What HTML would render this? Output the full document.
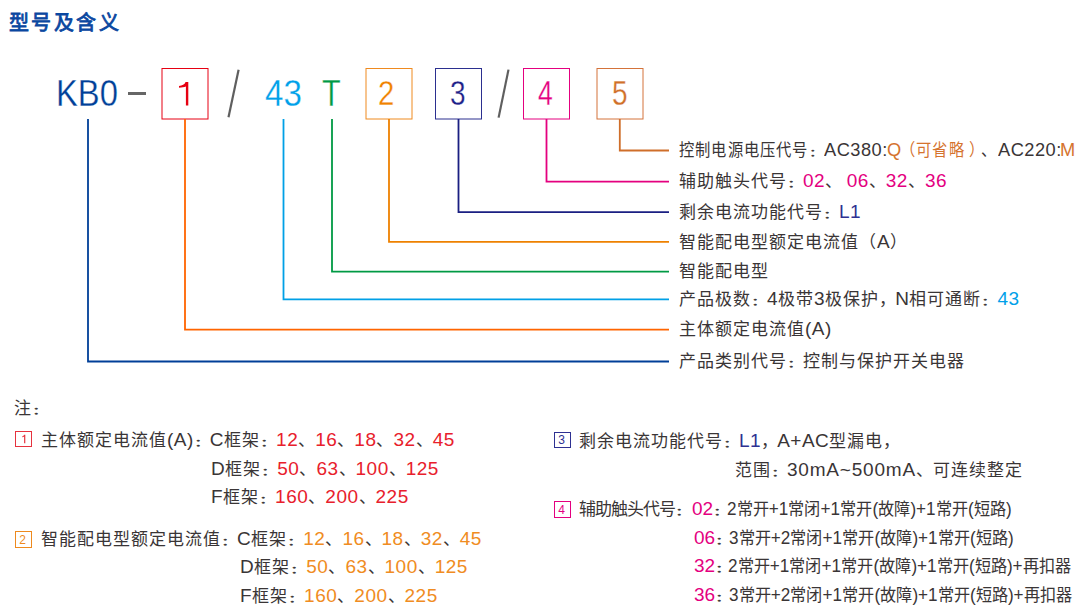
<!DOCTYPE html>
<html lang="zh-CN"><head><meta charset="utf-8"><title>型号及含义</title>
<style>
html,body{margin:0;padding:0;background:#fff;}
body{width:1083px;height:610px;position:relative;overflow:hidden;font-family:"Liberation Sans",sans-serif;color:#3a3536;}
.a{position:absolute;white-space:nowrap;line-height:1;transform-origin:0 0;}
.t{line-height:40px;font-size:16px;}
.t span{line-height:0;}
.r{position:absolute;}
.big{-webkit-text-stroke:0.3px #fff;paint-order:fill stroke;}
.b{position:absolute;box-sizing:border-box;}
.s{position:absolute;}
</style></head><body>
<div class="a" style="left:9px;top:13px;font-size:20px;letter-spacing:2.4px;color:#0a47a0;-webkit-text-stroke:0.8px #0a47a0">型号及含义</div>
<div class="a big" style="left:55.5px;top:76px;font-size:36px;color:#003f98;transform:scaleX(0.91)">KB0</div>
<div class="r" style="left:128px;top:92px;width:18px;height:3px;background:#666666"></div>
<svg class="s" style="left:0;top:0" width="1083" height="130"><g fill="none" stroke-width="1"><rect x="162" y="68.5" width="46" height="50.5" stroke="#e60012"/><rect x="366" y="68.5" width="46" height="50.5" stroke="#ef8a1f"/><rect x="435.5" y="68.5" width="46.0" height="50.5" stroke="#2b2f8f"/><rect x="523.5" y="68.5" width="46.0" height="50.5" stroke="#e4007f"/><rect x="597" y="68.5" width="46" height="50.5" stroke="#d4733a"/></g></svg>
<svg class="s" style="left:0;top:0" width="1083" height="130">
<line x1="238.6" y1="69.7" x2="228.5" y2="117.3" stroke="#5f5f5f" stroke-width="2.2"/>
<line x1="508.5" y1="69.6" x2="498.6" y2="117.6" stroke="#5f5f5f" stroke-width="2.2"/>
<path d="M185.6 82 L188.3 82 L188.3 105.4 L185.9 105.4 L185.9 86.6 C184.2 87.4 181.8 87.7 179 87.7 L179 85.9 C182.2 85.8 184.6 84.5 185.6 82 Z" fill="#e60012"/>
</svg>
<div class="a big" style="left:265px;top:76px;font-size:36px;color:#00a0e9;transform:scaleX(0.92)">43</div>
<div class="a big" style="left:321.5px;top:76px;font-size:36px;color:#009944;transform:scaleX(0.85)">T</div>
<div class="a big" style="left:378px;top:75px;font-size:35px;color:#f08200;transform:scaleX(0.84)">2</div>
<div class="a big" style="left:450px;top:75px;font-size:35px;color:#1d2088;transform:scaleX(0.8)">3</div>
<div class="a big" style="left:538px;top:75px;font-size:35px;color:#e4007f;transform:scaleX(0.76)">4</div>
<div class="a big" style="left:611.5px;top:75px;font-size:35px;color:#d0702a;transform:scaleX(0.8)">5</div>
<svg class="s" style="left:0;top:0" width="1083" height="400"><g fill="none" stroke-width="1.8" stroke-linejoin="miter"><path d="M88 119 V361.5 H669" stroke="#003f98"/><path d="M185 119 V329.6 H669" stroke="#ff6400"/><path d="M283.5 119 V299.46 H669" stroke="#00a0e6"/><path d="M332 119 V271.6 H669" stroke="#009a44"/><path d="M389 119 V241.93 H669" stroke="#ee8100"/><path d="M458.5 119 V212.07 H669" stroke="#1a1f82"/><path d="M546.5 119 V181.6 H669" stroke="#e4007f"/><path d="M619.8 119 V150.5 H669" stroke="#cf6e2a"/></g></svg>
<div class="a t" style="left:679px;top:162px;"><span style="font-size:17px;letter-spacing:1.0px;color:#3a3536;">辅助触头代号</span><span style="font-size:17px;letter-spacing:-1.0px;color:#3a3536;display:inline-block;transform:scaleY(0.55);transform-origin:50% 5.90px;-webkit-text-stroke:0.5px #3a3536;">：</span><span style="font-size:19px;letter-spacing:0.5px;color:#e4007f">02</span><span style="font-size:17px;letter-spacing:0.0px;color:#3a3536;margin-right:4.5px">、</span><span style="font-size:19px;letter-spacing:0.5px;color:#e4007f">06</span><span style="font-size:17px;letter-spacing:0.0px;color:#3a3536;">、</span><span style="font-size:19px;letter-spacing:0.5px;color:#e4007f">32</span><span style="font-size:17px;letter-spacing:0.0px;color:#3a3536;">、</span><span style="font-size:19px;letter-spacing:0.5px;color:#e4007f">36</span></div>
<div class="a t" style="left:679px;top:193px;"><span style="font-size:17px;letter-spacing:1.0px;color:#3a3536;">剩余电流功能代号</span><span style="font-size:17px;letter-spacing:-1.0px;color:#3a3536;display:inline-block;transform:scaleY(0.55);transform-origin:50% 5.90px;-webkit-text-stroke:0.5px #3a3536;">：</span><span style="font-size:19px;letter-spacing:0.5px;color:#2e3192">L1</span></div>
<div class="a t" style="left:679px;top:223px;"><span style="font-size:17px;letter-spacing:1.0px;color:#3a3536;">智能配电型额定电流值（</span><span style="font-size:19px;letter-spacing:0.5px;color:#3a3536">A</span><span style="font-size:17px;letter-spacing:1.0px;color:#3a3536;">）</span></div>
<div class="a t" style="left:679px;top:252px;"><span style="font-size:17px;letter-spacing:1.0px;color:#3a3536;">智能配电型</span></div>
<div class="a t" style="left:679px;top:280px;"><span style="font-size:17px;letter-spacing:1.0px;color:#3a3536;">产品极数</span><span style="font-size:17px;letter-spacing:-1.0px;color:#3a3536;display:inline-block;transform:scaleY(0.55);transform-origin:50% 5.90px;-webkit-text-stroke:0.5px #3a3536;">：</span><span style="font-size:19px;letter-spacing:0.5px;color:#3a3536">4</span><span style="font-size:17px;letter-spacing:1.0px;color:#3a3536;">极带</span><span style="font-size:19px;letter-spacing:0.5px;color:#3a3536">3</span><span style="font-size:17px;letter-spacing:1.0px;color:#3a3536;">极保护</span><span style="font-size:17px;letter-spacing:-1.0px;color:#3a3536;">，</span><span style="font-size:19px;letter-spacing:0.5px;color:#3a3536">N</span><span style="font-size:17px;letter-spacing:1.0px;color:#3a3536;">相可通断</span><span style="font-size:17px;letter-spacing:-1.0px;color:#3a3536;display:inline-block;transform:scaleY(0.55);transform-origin:50% 5.90px;-webkit-text-stroke:0.5px #3a3536;">：</span><span style="font-size:19px;letter-spacing:0.5px;color:#00a0e9">43</span></div>
<div class="a t" style="left:679px;top:310px;"><span style="font-size:17px;letter-spacing:1.0px;color:#3a3536;">主体额定电流值</span><span style="font-size:19px;letter-spacing:0.5px;color:#3a3536">(A)</span></div>
<div class="a t" style="left:679px;top:342px;"><span style="font-size:17px;letter-spacing:1.0px;color:#3a3536;">产品类别代号</span><span style="font-size:17px;letter-spacing:-1.0px;color:#3a3536;display:inline-block;transform:scaleY(0.55);transform-origin:50% 5.90px;-webkit-text-stroke:0.5px #3a3536;">：</span><span style="font-size:17px;letter-spacing:1.0px;color:#3a3536;">控制与保护开关电器</span></div>
<div class="a t" style="left:679px;top:131px;transform:scaleX(0.9);"><span style="font-size:17px;letter-spacing:1.0px;color:#3a3536;">控制电源电压代号</span><span style="font-size:17px;letter-spacing:-1.0px;color:#3a3536;display:inline-block;transform:scaleY(0.55);transform-origin:50% 5.90px;-webkit-text-stroke:0.5px #3a3536;">：</span></div>
<div class="a t" style="left:823.5px;top:131px;transform:scaleX(0.96);"><span style="font-size:19px;letter-spacing:0.5px;color:#3a3536">AC380:</span></div>
<div class="a t" style="left:886.5px;top:131px;transform:scaleX(0.96);"><span style="font-size:19px;letter-spacing:0.5px;color:#d5732e">Q</span></div>
<div class="a t" style="left:900px;top:131px;transform:scaleX(0.9);"><span style="font-size:17px;letter-spacing:1.0px;color:#d5732e;">（可省略</span></div>
<div class="a t" style="left:968.8px;top:131px;transform:scaleX(0.9);"><span style="font-size:17px;letter-spacing:1.0px;color:#d5732e;">）</span></div>
<div class="a t" style="left:981px;top:131px;transform:scaleX(0.9);"><span style="font-size:17px;letter-spacing:0.0px;color:#3a3536;">、</span></div>
<div class="a t" style="left:997.5px;top:131px;transform:scaleX(0.96);"><span style="font-size:19px;letter-spacing:0.5px;color:#3a3536">AC220:</span></div>
<div class="a t" style="left:1060px;top:131px;transform:scaleX(0.96);"><span style="font-size:19px;letter-spacing:0.5px;color:#d5732e">M</span></div>
<div class="a t" style="left:14px;top:389px;"><span style="font-size:17px;letter-spacing:1.0px;color:#3a3536;">注</span><span style="font-size:17px;letter-spacing:-1.0px;color:#3a3536;display:inline-block;transform:scaleY(0.55);transform-origin:50% 5.90px;-webkit-text-stroke:0.5px #3a3536;">：</span></div>
<div class="b" style="left:15px;top:431px;width:17px;height:16px;border:1px solid #e6323e"></div>
<svg class="s" style="left:15px;top:431px" width="17" height="16"><path d="M9.2 3.8 L10.3 3.8 L10.3 12.2 L9.1 12.2 L9.1 5.6 C8.6 6.1 7.9 6.3 7.1 6.3 L7.1 5.4 C8.1 5.3 8.9 4.7 9.2 3.8 Z" fill="#e6323e"/></svg>
<div class="a t" style="left:41px;top:421px;"><span style="font-size:17px;letter-spacing:1.0px;color:#3a3536;">主体额定电流值</span><span style="font-size:19px;letter-spacing:0.5px;color:#3a3536">(A)</span><span style="font-size:17px;letter-spacing:-1.0px;color:#3a3536;display:inline-block;transform:scaleY(0.55);transform-origin:50% 5.90px;-webkit-text-stroke:0.5px #3a3536;">：</span><span style="font-size:19px;letter-spacing:0.5px;color:#3a3536">C</span><span style="font-size:17px;letter-spacing:1.0px;color:#3a3536;">框架</span><span style="font-size:17px;letter-spacing:-1.0px;color:#3a3536;display:inline-block;transform:scaleY(0.55);transform-origin:50% 5.90px;-webkit-text-stroke:0.5px #3a3536;">：</span><span style="font-size:19px;letter-spacing:0.5px;color:#e8202c">12</span><span style="font-size:17px;letter-spacing:0.0px;color:#3a3536;">、</span><span style="font-size:19px;letter-spacing:0.5px;color:#e8202c">16</span><span style="font-size:17px;letter-spacing:0.0px;color:#3a3536;">、</span><span style="font-size:19px;letter-spacing:0.5px;color:#e8202c">18</span><span style="font-size:17px;letter-spacing:0.0px;color:#3a3536;">、</span><span style="font-size:19px;letter-spacing:0.5px;color:#e8202c">32</span><span style="font-size:17px;letter-spacing:0.0px;color:#3a3536;">、</span><span style="font-size:19px;letter-spacing:0.5px;color:#e8202c">45</span></div>
<div class="a t" style="left:211px;top:450px;"><span style="font-size:19px;letter-spacing:0.5px;color:#3a3536">D</span><span style="font-size:17px;letter-spacing:1.0px;color:#3a3536;">框架</span><span style="font-size:17px;letter-spacing:-1.0px;color:#3a3536;display:inline-block;transform:scaleY(0.55);transform-origin:50% 5.90px;-webkit-text-stroke:0.5px #3a3536;">：</span><span style="font-size:19px;letter-spacing:0.5px;color:#e8202c">50</span><span style="font-size:17px;letter-spacing:0.0px;color:#3a3536;">、</span><span style="font-size:19px;letter-spacing:0.5px;color:#e8202c">63</span><span style="font-size:17px;letter-spacing:0.0px;color:#3a3536;">、</span><span style="font-size:19px;letter-spacing:0.5px;color:#e8202c">100</span><span style="font-size:17px;letter-spacing:0.0px;color:#3a3536;">、</span><span style="font-size:19px;letter-spacing:0.5px;color:#e8202c">125</span></div>
<div class="a t" style="left:211px;top:478px;"><span style="font-size:19px;letter-spacing:0.5px;color:#3a3536">F</span><span style="font-size:17px;letter-spacing:1.0px;color:#3a3536;">框架</span><span style="font-size:17px;letter-spacing:-1.0px;color:#3a3536;display:inline-block;transform:scaleY(0.55);transform-origin:50% 5.90px;-webkit-text-stroke:0.5px #3a3536;">：</span><span style="font-size:19px;letter-spacing:0.5px;color:#e8202c">160</span><span style="font-size:17px;letter-spacing:0.0px;color:#3a3536;">、</span><span style="font-size:19px;letter-spacing:0.5px;color:#e8202c">200</span><span style="font-size:17px;letter-spacing:0.0px;color:#3a3536;">、</span><span style="font-size:19px;letter-spacing:0.5px;color:#e8202c">225</span></div>
<div class="b" style="left:15px;top:531px;width:17px;height:17px;border:1px solid #ee8a1e"></div>
<div class="a" style="left:14px;top:533.5px;width:17px;text-align:center;font-size:12px;line-height:12px;color:#ee8a1e">2</div>
<div class="a t" style="left:41px;top:520px;"><span style="font-size:17px;letter-spacing:1.0px;color:#3a3536;">智能配电型额定电流值</span><span style="font-size:17px;letter-spacing:-1.0px;color:#3a3536;display:inline-block;transform:scaleY(0.55);transform-origin:50% 5.90px;-webkit-text-stroke:0.5px #3a3536;">：</span><span style="font-size:19px;letter-spacing:0.5px;color:#3a3536">C</span><span style="font-size:17px;letter-spacing:1.0px;color:#3a3536;">框架</span><span style="font-size:17px;letter-spacing:-1.0px;color:#3a3536;display:inline-block;transform:scaleY(0.55);transform-origin:50% 5.90px;-webkit-text-stroke:0.5px #3a3536;">：</span><span style="font-size:19px;letter-spacing:0.5px;color:#f08c22">12</span><span style="font-size:17px;letter-spacing:0.0px;color:#3a3536;">、</span><span style="font-size:19px;letter-spacing:0.5px;color:#f08c22">16</span><span style="font-size:17px;letter-spacing:0.0px;color:#3a3536;">、</span><span style="font-size:19px;letter-spacing:0.5px;color:#f08c22">18</span><span style="font-size:17px;letter-spacing:0.0px;color:#3a3536;">、</span><span style="font-size:19px;letter-spacing:0.5px;color:#f08c22">32</span><span style="font-size:17px;letter-spacing:0.0px;color:#3a3536;">、</span><span style="font-size:19px;letter-spacing:0.5px;color:#f08c22">45</span></div>
<div class="a t" style="left:240px;top:548px;"><span style="font-size:19px;letter-spacing:0.5px;color:#3a3536">D</span><span style="font-size:17px;letter-spacing:1.0px;color:#3a3536;">框架</span><span style="font-size:17px;letter-spacing:-1.0px;color:#3a3536;display:inline-block;transform:scaleY(0.55);transform-origin:50% 5.90px;-webkit-text-stroke:0.5px #3a3536;">：</span><span style="font-size:19px;letter-spacing:0.5px;color:#f08c22">50</span><span style="font-size:17px;letter-spacing:0.0px;color:#3a3536;">、</span><span style="font-size:19px;letter-spacing:0.5px;color:#f08c22">63</span><span style="font-size:17px;letter-spacing:0.0px;color:#3a3536;">、</span><span style="font-size:19px;letter-spacing:0.5px;color:#f08c22">100</span><span style="font-size:17px;letter-spacing:0.0px;color:#3a3536;">、</span><span style="font-size:19px;letter-spacing:0.5px;color:#f08c22">125</span></div>
<div class="a t" style="left:240px;top:577px;"><span style="font-size:19px;letter-spacing:0.5px;color:#3a3536">F</span><span style="font-size:17px;letter-spacing:1.0px;color:#3a3536;">框架</span><span style="font-size:17px;letter-spacing:-1.0px;color:#3a3536;display:inline-block;transform:scaleY(0.55);transform-origin:50% 5.90px;-webkit-text-stroke:0.5px #3a3536;">：</span><span style="font-size:19px;letter-spacing:0.5px;color:#f08c22">160</span><span style="font-size:17px;letter-spacing:0.0px;color:#3a3536;">、</span><span style="font-size:19px;letter-spacing:0.5px;color:#f08c22">200</span><span style="font-size:17px;letter-spacing:0.0px;color:#3a3536;">、</span><span style="font-size:19px;letter-spacing:0.5px;color:#f08c22">225</span></div>
<div class="b" style="left:554px;top:432px;width:17px;height:16px;border:1px solid #2e3192"></div>
<div class="a" style="left:553px;top:434.0px;width:17px;text-align:center;font-size:12px;line-height:12px;color:#2e3192">3</div>
<div class="a t" style="left:579px;top:422px;"><span style="font-size:17px;letter-spacing:1.0px;color:#3a3536;">剩余电流功能代号</span><span style="font-size:17px;letter-spacing:-1.0px;color:#3a3536;display:inline-block;transform:scaleY(0.55);transform-origin:50% 5.90px;-webkit-text-stroke:0.5px #3a3536;">：</span><span style="font-size:19px;letter-spacing:0.5px;color:#2e3192">L1</span><span style="font-size:17px;letter-spacing:-1.0px;color:#3a3536;">，</span><span style="font-size:19px;letter-spacing:0.5px;color:#3a3536">A+AC</span><span style="font-size:17px;letter-spacing:1.0px;color:#3a3536;">型漏电</span><span style="font-size:17px;letter-spacing:-1.0px;color:#3a3536;">，</span></div>
<div class="a t" style="left:735px;top:451px;"><span style="font-size:17px;letter-spacing:1.0px;color:#3a3536;">范围</span><span style="font-size:17px;letter-spacing:-1.0px;color:#3a3536;display:inline-block;transform:scaleY(0.55);transform-origin:50% 5.90px;-webkit-text-stroke:0.5px #3a3536;">：</span><span style="font-size:19px;letter-spacing:0.8px;color:#3a3536">30mA~500mA</span><span style="font-size:17px;letter-spacing:0.0px;color:#3a3536;">、</span><span style="font-size:17px;letter-spacing:1.0px;color:#3a3536;">可连续整定</span></div>
<div class="b" style="left:554px;top:501px;width:17px;height:17px;border:1px solid #e4007f"></div>
<div class="a" style="left:553px;top:503.5px;width:17px;text-align:center;font-size:12px;line-height:12px;color:#e4007f">4</div>
<div class="a t" style="left:579px;top:490px;"><span style="font-size:17px;letter-spacing:-1px;color:#3a3536;">辅助触头代号</span><span style="font-size:17px;letter-spacing:-3px;color:#3a3536;display:inline-block;transform:scaleY(0.55);transform-origin:50% 5.90px;-webkit-text-stroke:0.5px #3a3536;">：</span></div>
<div class="a t" style="left:692px;top:490px;"><span style="font-size:19px;letter-spacing:0px;color:#e4007f">02</span><span style="font-size:17px;letter-spacing:-1.0px;color:#3a3536;display:inline-block;transform:scaleY(0.55);transform-origin:50% 5.90px;-webkit-text-stroke:0.5px #3a3536;">：</span></div>
<div class="a t" style="left:727px;top:490px;transform:scaleX(0.95);"><span style="font-size:18px;letter-spacing:0px;color:#3a3536">2</span><span style="font-size:17px;letter-spacing:0px;color:#3a3536;">常开</span><span style="font-size:18px;letter-spacing:0px;color:#3a3536">+1</span><span style="font-size:17px;letter-spacing:0px;color:#3a3536;">常闭</span><span style="font-size:18px;letter-spacing:0px;color:#3a3536">+1</span><span style="font-size:17px;letter-spacing:0px;color:#3a3536;">常开</span><span style="font-size:18px;letter-spacing:0px;color:#3a3536">(</span><span style="font-size:17px;letter-spacing:0px;color:#3a3536;">故障</span><span style="font-size:18px;letter-spacing:0px;color:#3a3536">)+1</span><span style="font-size:17px;letter-spacing:0px;color:#3a3536;">常开</span><span style="font-size:18px;letter-spacing:0px;color:#3a3536">(</span><span style="font-size:17px;letter-spacing:0px;color:#3a3536;">短路</span><span style="font-size:18px;letter-spacing:0px;color:#3a3536">)</span></div>
<div class="a t" style="left:694px;top:519px;"><span style="font-size:19px;letter-spacing:0px;color:#e4007f">06</span><span style="font-size:17px;letter-spacing:-1.0px;color:#3a3536;display:inline-block;transform:scaleY(0.55);transform-origin:50% 5.90px;-webkit-text-stroke:0.5px #3a3536;">：</span></div>
<div class="a t" style="left:729px;top:519px;transform:scaleX(0.95);"><span style="font-size:18px;letter-spacing:0px;color:#3a3536">3</span><span style="font-size:17px;letter-spacing:0px;color:#3a3536;">常开</span><span style="font-size:18px;letter-spacing:0px;color:#3a3536">+2</span><span style="font-size:17px;letter-spacing:0px;color:#3a3536;">常闭</span><span style="font-size:18px;letter-spacing:0px;color:#3a3536">+1</span><span style="font-size:17px;letter-spacing:0px;color:#3a3536;">常开</span><span style="font-size:18px;letter-spacing:0px;color:#3a3536">(</span><span style="font-size:17px;letter-spacing:0px;color:#3a3536;">故障</span><span style="font-size:18px;letter-spacing:0px;color:#3a3536">)+1</span><span style="font-size:17px;letter-spacing:0px;color:#3a3536;">常开</span><span style="font-size:18px;letter-spacing:0px;color:#3a3536">(</span><span style="font-size:17px;letter-spacing:0px;color:#3a3536;">短路</span><span style="font-size:18px;letter-spacing:0px;color:#3a3536">)</span></div>
<div class="a t" style="left:694px;top:547px;"><span style="font-size:19px;letter-spacing:0px;color:#e4007f">32</span><span style="font-size:17px;letter-spacing:-1.0px;color:#3a3536;display:inline-block;transform:scaleY(0.55);transform-origin:50% 5.90px;-webkit-text-stroke:0.5px #3a3536;">：</span></div>
<div class="a t" style="left:728px;top:547px;transform:scaleX(0.95);"><span style="font-size:18px;letter-spacing:0px;color:#3a3536">2</span><span style="font-size:17px;letter-spacing:0px;color:#3a3536;">常开</span><span style="font-size:18px;letter-spacing:0px;color:#3a3536">+1</span><span style="font-size:17px;letter-spacing:0px;color:#3a3536;">常闭</span><span style="font-size:18px;letter-spacing:0px;color:#3a3536">+1</span><span style="font-size:17px;letter-spacing:0px;color:#3a3536;">常开</span><span style="font-size:18px;letter-spacing:0px;color:#3a3536">(</span><span style="font-size:17px;letter-spacing:0px;color:#3a3536;">故障</span><span style="font-size:18px;letter-spacing:0px;color:#3a3536">)+1</span><span style="font-size:17px;letter-spacing:0px;color:#3a3536;">常开</span><span style="font-size:18px;letter-spacing:0px;color:#3a3536">(</span><span style="font-size:17px;letter-spacing:0px;color:#3a3536;">短路</span><span style="font-size:18px;letter-spacing:0px;color:#3a3536">)+</span><span style="font-size:17px;letter-spacing:0px;color:#3a3536;">再扣器</span></div>
<div class="a t" style="left:694px;top:576px;"><span style="font-size:19px;letter-spacing:0px;color:#e4007f">36</span><span style="font-size:17px;letter-spacing:-1.0px;color:#3a3536;display:inline-block;transform:scaleY(0.55);transform-origin:50% 5.90px;-webkit-text-stroke:0.5px #3a3536;">：</span></div>
<div class="a t" style="left:729px;top:576px;transform:scaleX(0.95);"><span style="font-size:18px;letter-spacing:0px;color:#3a3536">3</span><span style="font-size:17px;letter-spacing:0px;color:#3a3536;">常开</span><span style="font-size:18px;letter-spacing:0px;color:#3a3536">+2</span><span style="font-size:17px;letter-spacing:0px;color:#3a3536;">常闭</span><span style="font-size:18px;letter-spacing:0px;color:#3a3536">+1</span><span style="font-size:17px;letter-spacing:0px;color:#3a3536;">常开</span><span style="font-size:18px;letter-spacing:0px;color:#3a3536">(</span><span style="font-size:17px;letter-spacing:0px;color:#3a3536;">故障</span><span style="font-size:18px;letter-spacing:0px;color:#3a3536">)+1</span><span style="font-size:17px;letter-spacing:0px;color:#3a3536;">常开</span><span style="font-size:18px;letter-spacing:0px;color:#3a3536">(</span><span style="font-size:17px;letter-spacing:0px;color:#3a3536;">短路</span><span style="font-size:18px;letter-spacing:0px;color:#3a3536">)+</span><span style="font-size:17px;letter-spacing:0px;color:#3a3536;">再扣器</span></div>
</body></html>
